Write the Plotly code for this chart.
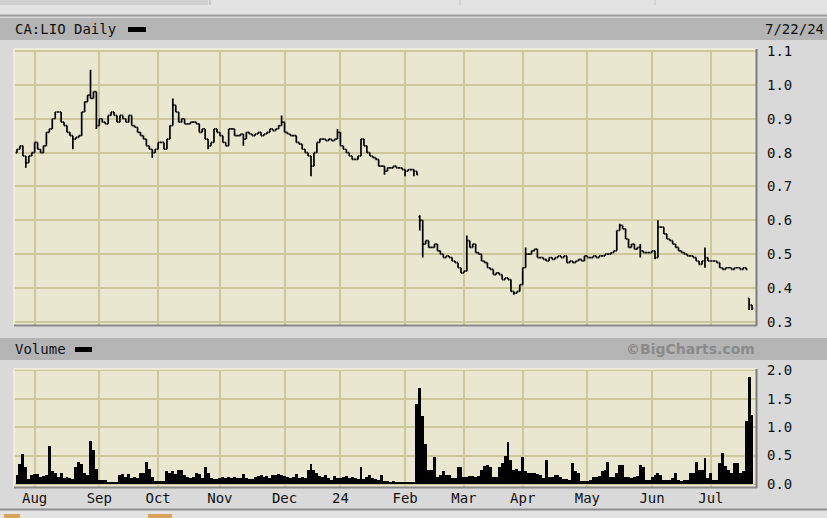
import pandas as pd
import plotly.graph_objects as go

# ---------------- data ----------------
close = [
    0.81, 0.82, 0.79, 0.77, 0.79, 0.80, 0.83, 0.81, 0.80, 0.82,
    0.86, 0.87, 0.90, 0.92, 0.92, 0.89, 0.88, 0.86, 0.85,
    0.84, 0.845, 0.85, 0.92, 0.95, 0.97, 0.96, 0.98, 0.88, 0.90,
    0.89, 0.885, 0.91, 0.92, 0.91, 0.89, 0.91, 0.90, 0.89,
    0.91, 0.88, 0.875, 0.86, 0.85, 0.84, 0.82, 0.81, 0.80, 0.81,
    0.83, 0.83, 0.81, 0.84, 0.88, 0.94, 0.92, 0.89, 0.90,
    0.885, 0.885, 0.89, 0.89, 0.885, 0.86, 0.87, 0.84, 0.82, 0.83,
    0.87, 0.86, 0.85, 0.83, 0.82, 0.87, 0.87, 0.85, 0.85, 0.855,
    0.84, 0.86, 0.855, 0.85, 0.855, 0.86, 0.85, 0.855, 0.86, 0.87,
    0.865, 0.87, 0.88, 0.89, 0.86, 0.855, 0.85, 0.85, 0.83, 0.825,
    0.81, 0.80, 0.79, 0.76, 0.80, 0.83, 0.84, 0.84, 0.835, 0.84,
    0.835, 0.84, 0.86, 0.82, 0.81, 0.80, 0.79,
    0.78, 0.78, 0.79, 0.84, 0.82, 0.80, 0.79, 0.785, 0.78, 0.76,
    0.76, 0.745, 0.755, 0.755, 0.76, 0.755, 0.755, 0.75, 0.745, 0.75,
    0.75, 0.745, 0.735, 0.60, 0.53, 0.54, 0.52, 0.52, 0.53, 0.51,
    0.50, 0.49, 0.495, 0.49, 0.48, 0.475, 0.46, 0.445, 0.45,
    0.54, 0.52, 0.53, 0.505, 0.50, 0.48, 0.475, 0.46, 0.455, 0.44,
    0.445, 0.44, 0.425, 0.43, 0.425, 0.39, 0.385, 0.39, 0.41,
    0.46, 0.50, 0.50, 0.51, 0.515, 0.49, 0.49, 0.485, 0.48, 0.49,
    0.485, 0.49, 0.495, 0.49, 0.495, 0.475, 0.48, 0.475, 0.48, 0.485,
    0.48, 0.495, 0.49, 0.49, 0.495, 0.49, 0.495, 0.495, 0.50, 0.50,
    0.505, 0.51, 0.57, 0.585, 0.575, 0.545, 0.52, 0.53, 0.515,
    0.52, 0.51, 0.505, 0.505, 0.505, 0.51, 0.49, 0.58, 0.58, 0.56,
    0.545, 0.54, 0.53, 0.52, 0.51, 0.505, 0.50, 0.495, 0.495, 0.49,
    0.48, 0.47, 0.48, 0.49, 0.48, 0.48, 0.48, 0.475, 0.46,
    0.455, 0.46, 0.46, 0.455, 0.46, 0.46, 0.455, 0.46, 0.455, 0.35,
    0.34,
]
first_open = 0.80
gap_opens = {137: 0.61, 249: 0.37}
high_spikes = {25: 1.045, 53: 0.96, 90: 0.91, 109: 0.87, 137: 0.615, 138: 0.565,
               153: 0.555, 173: 0.52, 205: 0.59, 212: 0.53, 218: 0.60, 234: 0.52,
               249: 0.37}
low_spikes = {3: 0.755, 19: 0.81, 27: 0.87, 46: 0.785, 65: 0.81, 77: 0.82,
              100: 0.73, 125: 0.735, 132: 0.73, 135: 0.73, 137: 0.57, 138: 0.49,
              169: 0.38, 173: 0.47, 212: 0.49, 217: 0.485, 234: 0.46, 249: 0.335,
              250: 0.335}

volume = [  # millions
    0.15, 0.35, 0.52, 0.30, 0.09, 0.15, 0.18, 0.17, 0.12, 0.14,
    0.15, 0.66, 0.23, 0.20, 0.12, 0.20, 0.10, 0.12, 0.10,
    0.08, 0.30, 0.38, 0.35, 0.20, 0.15, 0.75, 0.60, 0.26, 0.07,
    0.07, 0.07, 0.03, 0.03, 0.03, 0.03, 0.15, 0.18, 0.12,
    0.17, 0.10, 0.12, 0.10, 0.20, 0.20, 0.38, 0.26, 0.12, 0.06,
    0.06, 0.05, 0.06, 0.22, 0.20, 0.23, 0.17, 0.25, 0.24,
    0.15, 0.12, 0.10, 0.12, 0.20, 0.17, 0.10, 0.30, 0.20, 0.10,
    0.08, 0.09, 0.10, 0.12, 0.11, 0.12, 0.10, 0.12, 0.11, 0.10,
    0.17, 0.10, 0.09, 0.09, 0.12, 0.14, 0.15, 0.13, 0.14, 0.10,
    0.15, 0.16, 0.17, 0.16, 0.14, 0.12, 0.10, 0.12, 0.17, 0.10,
    0.12, 0.11, 0.25, 0.35, 0.25, 0.20, 0.14, 0.12, 0.15, 0.10,
    0.07, 0.14, 0.10, 0.10, 0.12, 0.14, 0.10,
    0.12, 0.10, 0.08, 0.30, 0.08, 0.12, 0.15, 0.10, 0.08, 0.07,
    0.15, 0.06, 0.06, 0.04, 0.05, 0.03, 0.03, 0.03, 0.03, 0.03,
    0.02, 0.03, 1.40, 1.68, 1.20, 0.70, 0.25, 0.25, 0.48, 0.13,
    0.16, 0.22, 0.16, 0.16, 0.10, 0.10, 0.30, 0.30, 0.13,
    0.13, 0.14, 0.14, 0.13, 0.14, 0.25, 0.31, 0.34, 0.30, 0.13,
    0.13, 0.30, 0.36, 0.50, 0.74, 0.42, 0.25, 0.27, 0.22,
    0.48, 0.22, 0.20, 0.20, 0.20, 0.18, 0.15, 0.10, 0.42, 0.13,
    0.12, 0.15, 0.15, 0.13, 0.08, 0.08, 0.07, 0.37, 0.22, 0.20,
    0.06, 0.06, 0.06, 0.07, 0.13, 0.13, 0.14, 0.22, 0.25, 0.39,
    0.13, 0.13, 0.19, 0.34, 0.34, 0.13, 0.12, 0.10, 0.13,
    0.14, 0.34, 0.30, 0.07, 0.07, 0.13, 0.16, 0.19, 0.15, 0.07,
    0.07, 0.07, 0.10, 0.19, 0.07, 0.06, 0.07, 0.07, 0.19, 0.20,
    0.39, 0.25, 0.25, 0.45, 0.10, 0.19, 0.07, 0.07, 0.36,
    0.54, 0.31, 0.25, 0.19, 0.37, 0.37, 0.20, 0.22, 1.10, 1.88,
    1.22,
]

# TSX market holidays (no trading) in the period
holidays = ["2023-08-07", "2023-09-04", "2023-10-09", "2023-12-25", "2023-12-26",
            "2024-01-01", "2024-02-19", "2024-03-29", "2024-05-20", "2024-07-01"]
month_ticks = ["2023-08-01", "2023-09-01", "2023-10-02", "2023-11-01", "2023-12-01",
               "2024-01-02", "2024-02-01", "2024-03-01", "2024-04-01", "2024-05-01",
               "2024-06-03", "2024-07-02"]
month_labels = ["Aug", "Sep", "Oct", "Nov", "Dec", "24", "Feb", "Mar", "Apr", "May",
                "Jun", "Jul"]
price_ticks = [0.3, 0.4, 0.5, 0.6, 0.7, 0.8, 0.9, 1.0, 1.1]
volume_ticks = [0.0, 0.5, 1.0, 1.5, 2.0]

# ---------------- derived OHLC ----------------
n = len(close)
dates = pd.bdate_range(end="2024-07-22", periods=n, freq="C", holidays=holidays)
opens = [first_open] + close[:-1]
for k, v in gap_opens.items():
    opens[k] = v
highs = [max(o, c) for o, c in zip(opens, close)]
lows = [min(o, c) for o, c in zip(opens, close)]
for k, v in high_spikes.items():
    highs[k] = max(highs[k], v)
for k, v in low_spikes.items():
    lows[k] = min(lows[k], v)

# ---------------- geometry ----------------
W, H = 827, 518
def px(x):
    return x / W
def py(y):
    return 1 - y / H

BG = "#d9d9d9"
HDR = "#b4b4b4"
PLOT_BG = "#e9e7cf"
GRID = "#cdc89b"
MONO = "DejaVu Sans Mono"

fig = go.Figure()
fig.add_trace(go.Ohlc(
    x=dates, open=opens, high=highs, low=lows, close=close,
    increasing=dict(line=dict(color="black", width=1.7)),
    decreasing=dict(line=dict(color="black", width=1.7)),
    tickwidth=0.45, xaxis="x", yaxis="y", hoverinfo="skip", showlegend=False,
))
fig.add_trace(go.Bar(
    x=dates, y=volume, marker=dict(color="black", line=dict(width=0)),
    xaxis="x2", yaxis="y2", hoverinfo="skip", showlegend=False,
))

xrange = ["2023-07-20 23:30", "2024-07-23 08:30"]
common_x = dict(
    type="date", range=xrange,
    rangebreaks=[dict(bounds=["sat", "mon"]), dict(values=holidays)],
    tickvals=month_ticks, ticktext=month_labels, showgrid=True, gridcolor=GRID,
    gridwidth=2, zeroline=False, showline=False, ticks="", fixedrange=True,
    automargin=False,
)
common_y = dict(side="right", showgrid=True, gridcolor=GRID, gridwidth=2,
                zeroline=False, ticks="", ticklabelstandoff=10, fixedrange=True,
                automargin=False)
fig.update_layout(
    width=W, height=H, margin=dict(l=0, r=0, t=0, b=0, autoexpand=False),
    paper_bgcolor=BG, plot_bgcolor=PLOT_BG, bargap=0,
    font=dict(family=MONO, size=14, color="#111111"),
    xaxis=dict(domain=[px(14), px(756)], anchor="y", showticklabels=False,
               rangeslider=dict(visible=False), **common_x),
    xaxis2=dict(domain=[px(14), px(756)], anchor="y2", showticklabels=True,
                tickfont=dict(family=MONO, size=14, color="#111111"),
                ticklabelstandoff=1, **common_x),
    yaxis=dict(domain=[py(325), py(49)], range=[0.291, 1.106],
               tickvals=price_ticks, ticktext=[f"{v:.1f}" for v in price_ticks],
               anchor="x", **common_y),
    yaxis2=dict(domain=[py(487), py(369)], range=[-0.053, 2.02],
                tickvals=volume_ticks, ticktext=[f"{v:.1f}" for v in volume_ticks],
                anchor="x2", **common_y),
)

shapes = []
def rect(x0, y0, x1, y1, color, layer="below"):
    shapes.append(dict(type="rect", xref="paper", yref="paper", x0=px(x0), x1=px(x1),
                       y0=py(y1), y1=py(y0), fillcolor=color, line=dict(width=0),
                       layer=layer))
def line(x0, y0, x1, y1, color, w=1, layer="above"):
    shapes.append(dict(type="line", xref="paper", yref="paper", x0=px(x0), x1=px(x1),
                       y0=py(y0), y1=py(y1), line=dict(color=color, width=w),
                       layer=layer))

# top strip / tabs
rect(0, 0, W, 15, "#e3e3e3")
rect(0, 0, 208, 5, "#cfcfcf")
line(210, 0, 210, 5, "#b0b0b0", 1)
line(460, 0, 460, 5, "#c4c4c4", 1)
line(655, 0, 655, 5, "#c4c4c4", 1)
line(0, 15.5, W, 15.5, "#9c9c9c", 2)
# header bars
rect(0, 18, W, 40, HDR)
rect(0, 338, W, 360, HDR)
# legend dashes
rect(128, 27, 146, 32, "#000000", layer="above")
rect(75, 347, 92, 352, "#000000", layer="above")
# plot frames (bevel)
for (t, b) in [(49, 325), (369, 487)]:
    line(14, t, 756, t, "#f2f0dc", 1.5)
    line(14, t, 14, b, "#f2f0dc", 1.5)
    line(756.5, t, 756.5, b + 1, "#7c7c7c", 2)
    line(14, b + 0.5, 757, b + 0.5, "#8a8a8a", 2)
# bottom strip
line(0, 509.5, W, 509.5, "#8f8f8f", 2)
rect(0, 511, W, H, "#e3e3e3")
rect(4, 514, 20, H, "#d9a35a")
rect(148, 514, 172, H, "#d9a35a")
fig.update_layout(shapes=shapes)

fig.update_layout(annotations=[
    dict(xref="paper", yref="paper", x=px(13), y=py(29), xanchor="left",
         yanchor="middle", text="CA:LIO Daily", showarrow=False,
         font=dict(family=MONO, size=14, color="#111111")),
    dict(xref="paper", yref="paper", x=px(826), y=py(29), xanchor="right",
         yanchor="middle", text="7/22/24", showarrow=False,
         font=dict(family=MONO, size=14, color="#111111")),
    dict(xref="paper", yref="paper", x=px(13), y=py(349), xanchor="left",
         yanchor="middle", text="Volume", showarrow=False,
         font=dict(family=MONO, size=14, color="#111111")),
    dict(xref="paper", yref="paper", x=px(757), y=py(349), xanchor="right",
         yanchor="middle", text="<b>©BigCharts.com</b>", showarrow=False,
         font=dict(family="DejaVu Sans", size=14, color="#8a8a8a")),
])

fig.write_html(
    "out.html",
    config={"displayModeBar": False},
    post_script="document.body.style.margin='0';document.body.style.overflow='hidden';",
)
